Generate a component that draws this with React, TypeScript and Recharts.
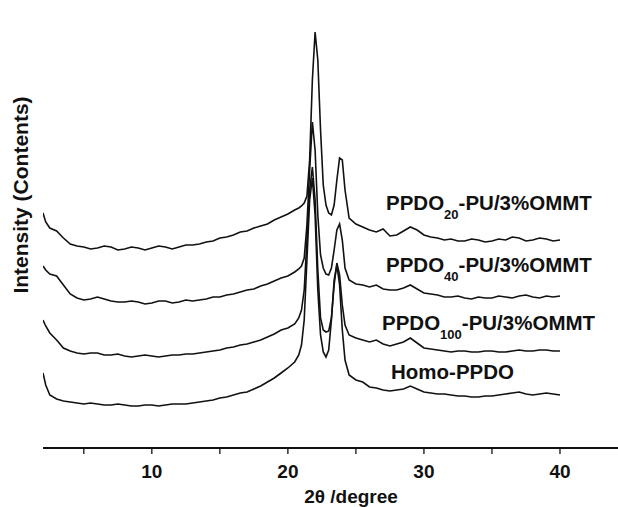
import { LineChart, Line, XAxis, YAxis } from 'recharts'

// 2θ positions (degree), denser around the two crystalline peaks
const twoTheta = [
  2.0, 2.2, 2.5, 3.0, 3.5, 4.0, 4.5, 5.0, 5.5, 6.0, 6.5, 7.0, 7.5, 8.0, 8.5, 9.0, 9.5, 10.0, 10.5, 11.0,
  11.5, 12.0, 12.5, 13.0, 13.5, 14.0, 14.5, 15.0, 15.5, 16.0, 16.5, 17.0, 17.5, 18.0, 18.5, 19.0, 19.5,
  20.0, 20.5, 20.8,
  21.0, 21.2, 21.4, 21.6, 21.8, 22.0, 22.2, 22.4, 22.6, 22.8, 23.0, 23.2, 23.4, 23.6, 23.8, 24.0, 24.2,
  24.5, 25.0, 25.5, 26.0, 26.5, 27.0, 27.5, 28.0, 28.5, 29.0, 29.5, 30.0, 30.5, 31.0, 31.5, 32.0, 32.5,
  33.0, 33.5, 34.0, 34.5, 35.0, 35.5, 36.0, 36.5, 37.0, 37.5, 38.0, 38.5, 39.0, 39.5, 40.0,
]

// intensities (a.u., curves already offset vertically as in the figure)
const ppdo20 = [
  234, 225, 219, 216, 209, 203, 201, 200, 198, 199, 201, 200, 197, 198, 200, 199, 197, 199, 201, 200,
  198, 200, 202, 202, 203, 205, 206, 209, 210, 212, 215, 216, 219, 221, 223, 227, 230,
  233, 237, 239,
  241, 244, 251, 287, 367, 415, 387, 317, 262, 242, 234, 232, 242, 267, 289, 287, 257,
  229, 223, 220, 217, 215, 218, 211, 212, 216, 220, 217, 212, 210, 209, 207, 208, 206,
  206, 208, 207, 205, 206, 208, 207, 210, 209, 206, 207, 209, 208, 206, 207,
]
const ppdo40 = [
  181, 177, 173, 171, 162, 153, 149, 147, 148, 150, 148, 146, 145, 145, 146, 145, 143, 144, 146, 146,
  144, 145, 147, 146, 147, 148, 150, 150, 152, 153, 155, 157, 158, 161, 163, 166, 169,
  171, 175, 178,
  181, 189, 222, 277, 325, 297, 232, 192, 179, 173, 172, 179, 197, 217, 223, 207, 179,
  167, 163, 162, 160, 162, 158, 157, 157, 159, 162, 158, 154, 153, 152, 150, 150, 151,
  149, 148, 150, 149, 149, 151, 150, 149, 151, 152, 150, 149, 151, 150, 151,
]
const ppdo100 = [
  127, 121, 114, 107, 99, 96, 94, 93, 94, 94, 92, 92, 93, 91, 90, 91, 92, 91, 90, 91,
  92, 92, 93, 93, 94, 95, 96, 97, 99, 100, 102, 103, 105, 107, 110, 113, 117,
  119, 123, 129,
  137, 157, 207, 257, 280, 247, 177, 129, 117, 115, 116, 129, 162, 184, 172, 142, 122,
  112, 109, 107, 105, 107, 103, 101, 103, 105, 109, 104, 99, 98, 97, 96, 95, 96,
  96, 95, 95, 96, 96, 95, 95, 96, 97, 96, 96, 97, 97, 96, 96,
]
const homoPpdo = [
  74, 62, 52, 48, 46, 45, 44, 43, 44, 43, 42, 42, 43, 42, 41, 41, 42, 42, 41, 42,
  43, 43, 43, 44, 45, 46, 47, 49, 50, 52, 54, 55, 58, 61, 65, 69, 74,
  79, 85, 92,
  102, 127, 187, 247, 269, 232, 157, 112, 95, 90, 97, 127, 167, 182, 162, 117, 87,
  72, 67, 65, 60, 59, 57, 56, 57, 58, 61, 58, 55, 54, 53, 53, 52, 51,
  51, 50, 50, 51, 51, 52, 53, 54, 55, 53, 52, 53, 54, 53, 52,
]

const xTicks = [5, 10, 15, 20, 25, 30, 35, 40, 45]
const majorTicks = [10, 20, 30, 40]

const seriesLabels = [
  { main: 'PPDO', sub: '20', rest: '-PU/3%OMMT', left: 386, top: 193 },
  { main: 'PPDO', sub: '40', rest: '-PU/3%OMMT', left: 386, top: 255 },
  { main: 'PPDO', sub: '100', rest: '-PU/3%OMMT', left: 382, top: 313 },
  { main: 'Homo-PPDO', sub: '', rest: '', left: 391, top: 362 },
]

const data = twoTheta.map((t, i) => ({
  t,
  a: ppdo20[i],
  b: ppdo40[i],
  c: ppdo100[i],
  d: homoPpdo[i],
}))

const FONT = '"Liberation Sans", Arial, sans-serif'
const INK = '#111'

const XTick = ({ x, y, payload }: any) => {
  if (!majorTicks.includes(payload.value)) return null
  return (
    <text x={x} y={y} dy="0.71em" textAnchor="middle" fontSize={19} fontWeight="bold" fontFamily={FONT} fill={INK}>
      {payload.value}
    </text>
  )
}

export default function App() {
  return (
    <div
      style={{
        position: 'absolute',
        left: 0,
        top: 0,
        width: 618,
        height: 507,
        overflow: 'hidden',
        background: '#fff',
        fontFamily: FONT,
      }}
    >
      <LineChart width={628} height={507} data={data} margin={{ top: 16, right: 0, left: 43, bottom: 9 }}>
        <XAxis
          dataKey="t"
          type="number"
          domain={[2, 45]}
          ticks={xTicks}
          tick={<XTick />}
          tickSize={6}
          tickMargin={11}
          height={50}
          axisLine={{ stroke: INK, strokeWidth: 2 }}
          tickLine={{ stroke: INK, strokeWidth: 1.3 }}
          allowDataOverflow
        />
        <XAxis
          xAxisId="top"
          orientation="top"
          dataKey="t"
          type="number"
          domain={[2, 45]}
          height={0}
          tick={false}
          tickLine={false}
          axisLine={{ stroke: INK, strokeWidth: 2 }}
        />
        <YAxis
          type="number"
          domain={[-1, 431]}
          width={0}
          tick={false}
          tickLine={false}
          axisLine={{ stroke: INK, strokeWidth: 2 }}
        />
        <Line dataKey="a" type="linear" stroke={INK} strokeWidth={1.6} dot={false} isAnimationActive={false} />
        <Line dataKey="b" type="linear" stroke={INK} strokeWidth={1.6} dot={false} isAnimationActive={false} />
        <Line dataKey="c" type="linear" stroke={INK} strokeWidth={1.6} dot={false} isAnimationActive={false} />
        <Line dataKey="d" type="linear" stroke={INK} strokeWidth={1.6} dot={false} isAnimationActive={false} />
      </LineChart>

      {/* curve labels */}
      {seriesLabels.map((s) => (
        <div
          key={s.sub + s.main}
          style={{
            position: 'absolute',
            left: s.left,
            top: s.top,
            fontSize: 20.5,
            lineHeight: '20px',
            fontWeight: 'bold',
            color: INK,
            whiteSpace: 'nowrap',
          }}
        >
          {s.main}
          {s.sub && <span style={{ fontSize: 13, position: 'relative', top: 9 }}>{s.sub}</span>}
          {s.rest}
        </div>
      ))}

      {/* axis titles */}
      <div
        style={{
          position: 'absolute',
          left: 251,
          top: 487,
          width: 200,
          textAlign: 'center',
          fontSize: 19,
          lineHeight: '20px',
          fontWeight: 'bold',
          color: INK,
        }}
      >
        2θ /degree
      </div>
      <div
        style={{
          position: 'absolute',
          left: 21 - 150,
          top: 195 - 11,
          width: 300,
          textAlign: 'center',
          fontSize: 21,
          lineHeight: '22px',
          fontWeight: 'bold',
          color: INK,
          transform: 'rotate(-90deg)',
        }}
      >
        Intensity (Contents)
      </div>
    </div>
  )
}
